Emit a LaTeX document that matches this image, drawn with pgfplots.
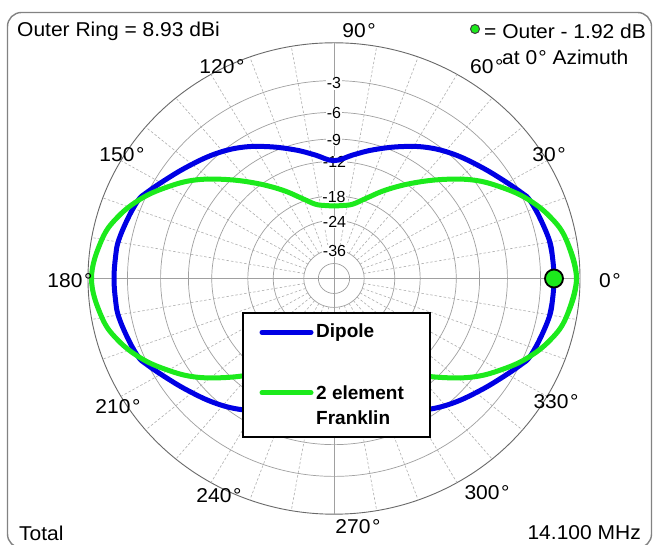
\documentclass[border=0pt]{standalone}
\usepackage{fontspec}
\setmainfont{Liberation Sans}
\usepackage{pgfplots}
\pgfplotsset{compat=1.18}
\usepackage{pgfplotstable}
\definecolor{dipole}{RGB}{0,0,228}
\definecolor{frank}{RGB}{28,234,28}
\definecolor{ringgray}{RGB}{160,160,160}
\definecolor{outergray}{RGB}{105,105,105}
\definecolor{spokegray}{RGB}{175,175,175}
\definecolor{framegray}{RGB}{130,130,130}

% azimuth (deg) and gain relative to the outer ring (dB)
\pgfplotstableread{
ang db
-10.5 -2.0
-5.9 -1.95
0 -1.92
5.9 -1.95
10.5 -2.0
17.4 -2.3
22.7 -2.55
25.2 -2.85
31.3 -3.75
38.7 -4.7
47.3 -5.7
55.7 -6.8
64.4 -8.2
73.8 -9.7
81.6 -10.9
90 -11.9
98.4 -10.9
106.2 -9.7
115.6 -8.2
124.3 -6.8
132.7 -5.7
141.3 -4.7
148.7 -3.75
154.8 -2.85
157.3 -2.55
162.6 -2.3
169.5 -2.0
174.1 -1.95
180 -1.92
185.9 -1.95
190.5 -2.0
197.4 -2.3
202.7 -2.55
205.2 -2.85
211.3 -3.75
218.7 -4.7
227.3 -5.7
235.7 -6.8
244.4 -8.2
253.8 -9.7
261.6 -10.9
270 -11.9
278.4 -10.9
286.2 -9.7
295.6 -8.2
304.3 -6.8
312.7 -5.7
321.3 -4.7
328.7 -3.75
334.8 -2.85
337.3 -2.55
342.6 -2.3
349.5 -2.0
354.1 -1.95
360 -1.92
365.9 -1.95
370.5 -2.0
}\dipoletab

\pgfplotstableread{
ang db
-9.8 -0.73
0 -0.25
9.8 -0.73
16.6 -1.5
23.5 -2.74
30.0 -4.3
36.3 -6.0
43.3 -8.4
51.5 -11.3
60.5 -14.4
68.9 -17.3
76.3 -19.3
83.2 -20.0
90 -20.2
96.8 -20.0
103.7 -19.3
111.1 -17.3
119.5 -14.4
128.5 -11.3
136.7 -8.4
143.7 -6.0
150 -4.3
156.5 -2.74
163.4 -1.5
170.2 -0.73
180 -0.25
189.8 -0.73
196.6 -1.5
203.5 -2.74
210 -4.3
216.3 -6.0
223.3 -8.4
231.5 -11.3
240.5 -14.4
248.9 -17.3
256.3 -19.3
263.2 -20.0
270 -20.2
276.8 -20.0
283.7 -19.3
291.1 -17.3
299.5 -14.4
308.5 -11.3
316.7 -8.4
323.7 -6.0
330 -4.3
336.5 -2.74
343.4 -1.5
350.2 -0.73
360 -0.25
369.8 -0.73
}\franktab

\pgfplotstableread{
ang db
0 -1.92
}\maxtab

\newcommand{\PX}{334+246*exp(0.0582651*\thisrow{db})*cos(\thisrow{ang})}
\newcommand{\PY}{266.5+235.7*exp(0.0582651*\thisrow{db})*sin(\thisrow{ang})}

\begin{document}
\begin{tikzpicture}
\fill[white] (0,0) rectangle (656pt,545pt);
\begin{axis}[
  at={(0pt,0pt)}, anchor=south west,
  scale only axis, width=656pt, height=545pt,
  xmin=0, xmax=656, ymin=0, ymax=545,
  hide axis, clip=false,
]
% frame
\draw[framegray, line width=1.4pt, rounded corners=14pt] (axis cs:7.5,532.5) rectangle (axis cs:651.5,-3);

% rings
\pgfplotsinvokeforeach{0.8396,0.7049,0.5918,0.4969,0.3503,0.2469,0.1227,0.0636}{
  \draw[ringgray, line width=0.7pt] (axis cs:334,266.5) ellipse [x radius={246*#1*1pt}, y radius={235.7*#1*1pt}];
}
\draw[outergray, line width=0.9pt] (axis cs:334,266.5) ellipse [x radius=246pt, y radius=235.7pt];

% spokes
\pgfplotsinvokeforeach{10,20,30,40,50,60,70,80,100,110,120,130,140,150,160,170,190,200,210,220,230,240,250,260,280,290,300,310,320,330,340,350}{
  \draw[spokegray, line width=0.6pt, dash pattern=on 2.5pt off 2pt]
    (axis cs:{334+246*0.1227*cos(#1)},{266.5+235.7*0.1227*sin(#1)}) --
    (axis cs:{334+246*cos(#1)},{266.5+235.7*sin(#1)});
}
\draw[ringgray, line width=0.8pt] (axis cs:88,266.5) -- (axis cs:580,266.5);
\draw[ringgray, line width=0.8pt] (axis cs:334,30.8) -- (axis cs:334,502.2);

% ring labels
\begin{scope}[every node/.style={font=\fontsize{16}{18}\selectfont, fill=white, inner sep=0.5pt}]
\node at (axis cs:334,461.5) {-3};
\node at (axis cs:334,431.7) {-6};
\node at (axis cs:334,405) {-9};
\node at (axis cs:334.5,383.3) {-12};
\node at (axis cs:334,348.3) {-18};
\node at (axis cs:334.5,322.7) {-24};
\node at (axis cs:334.5,294.3) {-36};
\end{scope}

% pattern curves
\addplot+[no marks, draw=dipole, line width=5pt, smooth, tension=0.65, line cap=round, line join=round] table[x expr={\PX}, y expr={\PY}] {\dipoletab};
\addplot+[no marks, draw=frank, line width=5pt, smooth, tension=0.65, line cap=round, line join=round] table[x expr={\PX}, y expr={\PY}] {\franktab};
\addplot[only marks, mark=*, mark size=9pt, mark options={fill=frank, draw=black, line width=1.8pt}] table[x expr={\PX}, y expr={\PY}] {\maxtab};

% angle labels
\begin{scope}[every node/.style={font=\fontsize{20}{24}\selectfont, inner sep=0pt, xscale=1.05}]
\node at (axis cs:359,514) {90\kern1.5pt°};
\node at (axis cs:222,478) {120\kern1.5pt°};
\node at (axis cs:122,390) {150\kern1.5pt°};
\node at (axis cs:549,390) {30\kern1.5pt°};
\node at (axis cs:70,264) {180\kern1.5pt°};
\node at (axis cs:610,264) {0\kern1.5pt°};
\node at (axis cs:118,138) {210\kern1.5pt°};
\node at (axis cs:556,143) {330\kern1.5pt°};
\node at (axis cs:219,49) {240\kern1.5pt°};
\node at (axis cs:487,52) {300\kern1.5pt°};
\node at (axis cs:358,18) {270\kern1.5pt°};
\node[anchor=west] at (axis cs:470,478) {60\kern1.5pt°};
\node[anchor=west] at (axis cs:17,514) {Outer Ring = 8.93 dBi};
\node[anchor=west] at (axis cs:484,514) {= Outer - 1.92 dB};
\node[anchor=west] at (axis cs:502,488) {at 0\kern1pt° Azimuth};
\node[anchor=west] at (axis cs:19,12) {Total};
\node[anchor=east] at (axis cs:641,12) {14.100 MHz};
\end{scope}
\addplot[only marks, mark=*, mark size=4.5pt, mark options={fill=frank, draw=black!75, line width=1pt}] coordinates {(475,516)};

% legend
\draw[black, line width=2pt, fill=white] (axis cs:243.3,231.7) rectangle (axis cs:430,108.3);
\draw[dipole, line width=5pt, line cap=round] (axis cs:262,212.7) -- (axis cs:311,212.7);
\draw[frank, line width=5pt, line cap=round] (axis cs:262,152.3) -- (axis cs:311,152.3);
\begin{scope}[every node/.style={font=\fontsize{19}{22}\selectfont\bfseries, inner sep=0pt, anchor=west}]
\node at (axis cs:316,212.7) {Dipole};
\node at (axis cs:316,152.5) {2 element};
\node at (axis cs:316,127.5) {Franklin};
\end{scope}
\end{axis}
\pgfresetboundingbox
\useasboundingbox (0,0) rectangle (656pt,545pt);
\end{tikzpicture}
\end{document}
